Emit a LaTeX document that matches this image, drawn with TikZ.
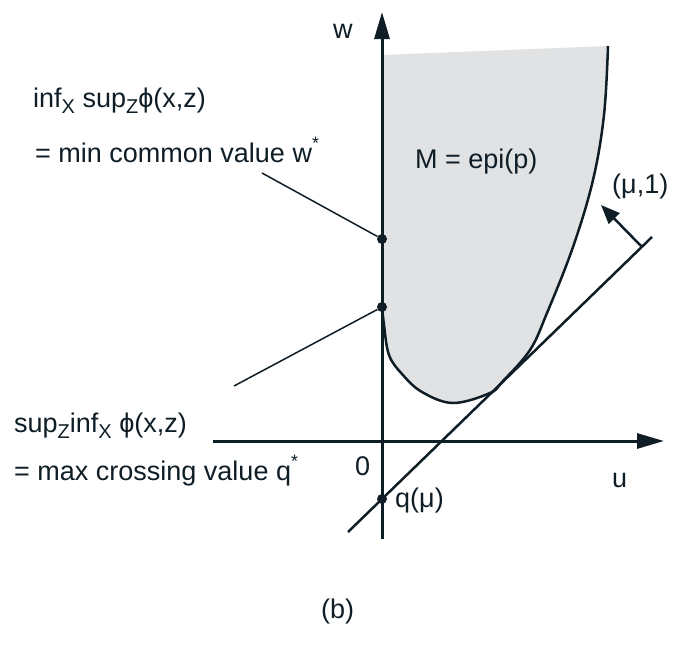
\documentclass[tikz,border=0pt]{standalone}
\usepackage{fontspec}
\setmainfont{Liberation Sans}
\usetikzlibrary{arrows.meta}
\definecolor{ink}{HTML}{0F1D26}
\definecolor{regiongray}{HTML}{E1E2E4}
\newcommand{\lowsub}[1]{\raisebox{-0.45ex}{\fontsize{20}{20}\selectfont #1}}
\newcommand{\highstar}{\raisebox{0.9ex}{\fontsize{18}{18}\selectfont *}}
\begin{document}
\begin{tikzpicture}[x=1pt,y=-1pt,
  lbl/.style={anchor=base west,inner sep=0pt,text=ink,font=\fontsize{27}{31}\selectfont},
  axisline/.style={draw=ink,line width=3pt,-{Triangle[length=27pt,width=15pt]}},
  boundary/.style={draw=ink,line width=2.5pt},
  leader/.style={draw=ink,line width=1.5pt},
  dotnode/.style={circle,fill=ink,inner sep=0pt,minimum size=10pt}]
\useasboundingbox (0,0) rectangle (680,645);
% region M
\fill[regiongray] (382,55) -- (608,46)
  -- plot[smooth,tension=0.6] coordinates {(608,46) (604,115) (593,180) (573,247) (547,313) (530,350) (503,381) (490,393) (453,403) (422,392) (402,374) (389,355) (384,325) (382,305)} -- cycle;
\draw[boundary] plot[smooth,tension=0.6] coordinates {(608,46) (604,115) (593,180) (573,247) (547,313) (530,350) (503,381) (490,393) (453,403) (422,392) (402,374) (389,355) (384,325) (382,305)};
% axes
\coordinate (wbot) at (382,539);
\coordinate (wtop) at (382,12);
\coordinate (uleft) at (213,441);
\coordinate (uright) at (664,441);
\draw[axisline] (wbot) -- (wtop);
\draw[axisline] (uleft) -- (uright);
% tangent line
\coordinate (tl) at (348,532);
\coordinate (tr) at (652,237);
\draw[boundary] (tl) -- (tr);
% normal arrow
\coordinate (nbase) at (642,247);
\coordinate (ntip) at (601,205);
\draw[draw=ink,line width=2.5pt,-{Triangle[length=19pt,width=15pt]}] (nbase) -- (ntip);
% dots
\node[dotnode] (dw) at (382,239) {};
\node[dotnode] (dq) at (382,307) {};
\node[dotnode] (dqm) at (382,499) {};
% leaders
\coordinate (l1) at (262,173);
\coordinate (l2) at (234,386);
\draw[leader] (l1) -- (dw);
\draw[leader] (l2) -- (dq);
% labels
\node[lbl] (wlab) at (333,38) {w};
\node[lbl] (ulab) at (612,487) {u};
\node[lbl] (zero) at (355,475) {0};
\node[lbl] (qmu) at (395,507) {q(μ)};
\node[lbl] (mu1) at (612,193) {(μ,1)};
\node[lbl] (Mlab) at (415,168) {M = epi(p)};
\node[lbl] (t1) at (33,107) {inf\lowsub{X} sup\lowsub{Z}ϕ(x,z)};
\node[lbl] (t2) at (35,162) {= min common value w\highstar};
\node[lbl] (t3) at (14,432) {sup\lowsub{Z}inf\lowsub{X} ϕ(x,z)};
\node[lbl] (t4) at (14,480) {= max crossing value q\highstar};
\node[lbl] (blab) at (321,618) {(b)};
\end{tikzpicture}
\end{document}
